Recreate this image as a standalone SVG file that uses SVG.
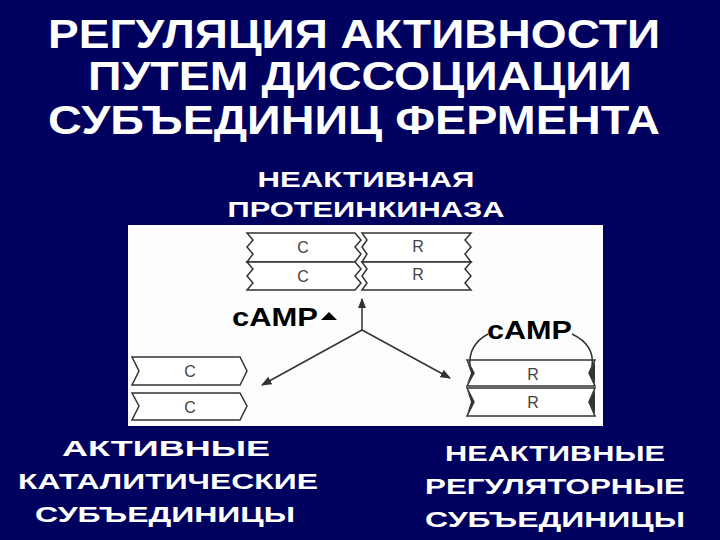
<svg xmlns="http://www.w3.org/2000/svg" width="720" height="540" viewBox="0 0 720 540">
<defs>
<style>
.t{font-family:"Liberation Sans",Arial,sans-serif;font-weight:bold;fill:#fff;text-anchor:middle}
.b{fill:#fff;stroke:#333;stroke-width:1.5}
.l{font-family:"Liberation Sans",Arial,sans-serif;fill:#444;font-size:16px;text-anchor:middle}
.c{font-family:"Liberation Sans",Arial,sans-serif;font-weight:bold;fill:#000;font-size:26px}
.a{stroke:#333;stroke-width:1.5;fill:none}
</style>
<marker id="ah" viewBox="0 0 10 10" refX="9" refY="5" markerWidth="7" markerHeight="7" orient="auto"><path d="M0,1 L10,5 L0,9 Z" fill="#333"/></marker>
</defs>
<rect width="720" height="540" fill="#00005e"/>
<g id="title">
<text class="t" x="354" y="48" font-size="40" textLength="612" lengthAdjust="spacingAndGlyphs">РЕГУЛЯЦИЯ  АКТИВНОСТИ</text>
<text class="t" x="360" y="90" font-size="40" textLength="544" lengthAdjust="spacingAndGlyphs">ПУТЕМ  ДИССОЦИАЦИИ</text>
<text class="t" x="354" y="134" font-size="40" textLength="612" lengthAdjust="spacingAndGlyphs">СУБЪЕДИНИЦ  ФЕРМЕНТА</text>
</g>
<g id="label-top">
<text class="t" x="366" y="187" font-size="22" textLength="217" lengthAdjust="spacingAndGlyphs">НЕАКТИВНАЯ</text>
<text class="t" x="366" y="217" font-size="22" textLength="277" lengthAdjust="spacingAndGlyphs">ПРОТЕИНКИНАЗА</text>
</g>
<rect x="128" y="225" width="475" height="201" fill="#fdfdfd"/>
<g id="holoenzyme">
<path class="b" d="M247,233 H355 L361,240 L355,247 L361,254 L355,262 H247 L253,254 L247,247 L253,240 Z"/>
<path class="b" d="M247,262 H355 L361,269 L355,276 L361,283 L355,290 H247 L253,283 L247,276 L253,269 Z"/>
<path class="b" d="M362,233 H471 L465,240 L471,247 L465,254 L471,262 H362 L367,254 L362,247 L367,240 Z"/>
<path class="b" d="M362,262 H471 L465,269 L471,276 L465,283 L471,290 H362 L367,283 L362,276 L367,269 Z"/>
<text class="l" x="303" y="253">C</text><text class="l" x="303" y="282">C</text>
<text class="l" x="418" y="252">R</text><text class="l" x="418" y="280">R</text>
</g>
<g id="camp-left"><text class="c" x="232" y="326" textLength="86" lengthAdjust="spacingAndGlyphs">cAMP</text><path d="M321,320 L329,312 L337,320 Z" fill="#000"/></g>
<g id="c-subunits">
<path class="b" d="M132,357 H240 L247,371 L240,385 H132 L139,371 Z"/>
<path class="b" d="M132,393 H240 L247,406 L240,420 H132 L139,406 Z"/>
<text class="l" x="190" y="377">C</text><text class="l" x="190" y="413">C</text>
</g>
<g id="r-subunits">
<path class="b" d="M467,360 H595 L589,373 L595,386 H467 L474,373 Z"/>
<path class="b" d="M467,388 H595 L589,402 L595,416 H467 L474,402 Z"/>
<path d="M467,362 L474,373 L467,384 L471,373 Z M467,390 L474,402 L467,414 L471,402 Z M595,362 L589,373 L595,384 Z M595,390 L589,402 L595,414 Z" fill="#333"/>
<text class="l" x="533" y="380">R</text><text class="l" x="533" y="408">R</text>
<text class="c" x="487" y="339" textLength="85" lengthAdjust="spacingAndGlyphs">cAMP</text>
<path class="a" d="M470,366 Q468,345 488,334"/>
<path class="a" d="M572,334 Q595,345 592,366"/>
</g>
<g id="connectors">
<line class="a" x1="362" y1="330" x2="362" y2="299" marker-end="url(#ah)"/>
<line class="a" x1="362" y1="330" x2="262" y2="385" marker-end="url(#ah)"/>
<line class="a" x1="362" y1="330" x2="450" y2="378" marker-end="url(#ah)"/>
</g>
<g id="label-left">
<text class="t" x="166" y="456" font-size="22" textLength="208" lengthAdjust="spacingAndGlyphs">АКТИВНЫЕ</text>
<text class="t" x="168" y="489" font-size="22" textLength="300" lengthAdjust="spacingAndGlyphs">КАТАЛИТИЧЕСКИЕ</text>
<text class="t" x="165" y="522" font-size="22" textLength="260" lengthAdjust="spacingAndGlyphs">СУБЪЕДИНИЦЫ</text>
</g>
<g id="label-right">
<text class="t" x="555" y="461" font-size="22" textLength="220" lengthAdjust="spacingAndGlyphs">НЕАКТИВНЫЕ</text>
<text class="t" x="555" y="494" font-size="22" textLength="260" lengthAdjust="spacingAndGlyphs">РЕГУЛЯТОРНЫЕ</text>
<text class="t" x="555" y="527" font-size="22" textLength="260" lengthAdjust="spacingAndGlyphs">СУБЪЕДИНИЦЫ</text>
</g>
</svg>
